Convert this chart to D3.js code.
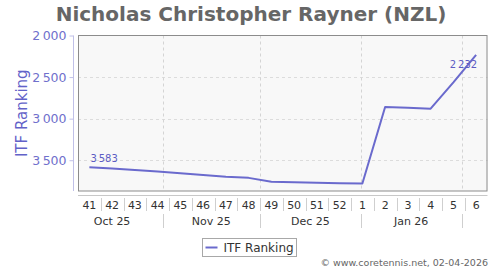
<!DOCTYPE html>
<html>
<head>
<meta charset="utf-8">
<script src="https://cdn.jsdelivr.net/npm/d3@7"></script>
<style>
    body { margin: 0; background: #fff; }
    text { font-family: "DejaVu Sans", sans-serif; }
</style>
</head>
<body>
<div id="chart"></div>
<script>
// weekly ITF ranking, week 41 of 2025 to week 6 of 2026
const weekLabels = ["41","42","43","44","45","46","47","48","49","50","51","52","1","2","3","4","5","6"];
const ranks = [3583, 3598, 3617, 3636, 3657, 3678, 3700, 3712, 3760, 3766, 3772, 3776, 3780, 2860, 2868, 2880, 2564, 2232];
const yTicks = [2000, 2500, 3000, 3500];
const firstWeekStart = new Date(Date.UTC(2025, 9, 6));
const chartTitle = "Nicholas Christopher Rayner (NZL)";
const yTitle = "ITF Ranking";
const credit = "\u00a9 www.coretennis.net, 02-04-2026";

document.addEventListener("DOMContentLoaded", function(){
    const width = 500, height = 270;
    const plot = {left: 78, right: 487.5, top: 35.5, bottom: 191};
    const lineColor = "#6a6acd";
    const labelColor = "#7070cc";

    const svg = d3.select("#chart").append("svg")
        .attr("width", width)
        .attr("height", height);

    const weekStarts = weekLabels.map((w, i) => d3.utcMonday.offset(firstWeekStart, i));
    const endDate = d3.utcMonday.offset(firstWeekStart, weekLabels.length);
    const weekMid = d => new Date(+d + 3.5 * 864e5);

    const x = d3.scaleUtc().domain([firstWeekStart, endDate]).range([plot.left, plot.right]);
    const y = d3.scaleLinear().domain([2000, 3870]).range([plot.top, plot.bottom]);

    // plot background
    svg.append("rect")
        .attr("x", plot.left).attr("y", plot.top)
        .attr("width", plot.right - plot.left).attr("height", plot.bottom - plot.top)
        .attr("fill", "#f8f8f8");

    // horizontal grid
    svg.append("g").selectAll("line")
        .data(yTicks.slice(1))
        .join("line")
        .attr("x1", plot.left).attr("x2", plot.right)
        .attr("y1", d => Math.round(y(d)) + 0.5).attr("y2", d => Math.round(y(d)) + 0.5)
        .attr("stroke", "#dcdcdc")
        .attr("stroke-dasharray", "3,3");

    // month boundaries
    const monthStarts = d3.utcMonth.range(firstWeekStart, endDate);
    svg.append("g").selectAll("line")
        .data(monthStarts)
        .join("line")
        .attr("x1", d => Math.round(x(d)) + 0.5).attr("x2", d => Math.round(x(d)) + 0.5)
        .attr("y1", plot.top).attr("y2", plot.bottom)
        .attr("stroke", "#d4d4d4")
        .attr("stroke-dasharray", "3,3");

    // frame
    svg.append("rect")
        .attr("x", plot.left + 0.5).attr("y", plot.top)
        .attr("width", plot.right - plot.left - 1).attr("height", plot.bottom - plot.top)
        .attr("fill", "none")
        .attr("stroke", "#8c8c8c");

    // y axis
    const fmt = d3.formatLocale({decimal: ".", thousands: "\u2009", grouping: [3], currency: ["", ""]}).format(",");
    const yAxis = svg.append("g")
        .attr("transform", "translate(73.5,0)")
        .call(d3.axisLeft(y).tickValues(yTicks).tickFormat(fmt).tickSize(4).tickPadding(3));
    yAxis.select(".domain").attr("stroke", "#c0c0e8").attr("d", `M0,${plot.top}V${plot.bottom}`);
    yAxis.selectAll(".tick line").attr("stroke", "#c0c0e8");
    yAxis.selectAll(".tick text")
        .attr("fill", labelColor)
        .attr("font-size", 12.5)
        .attr("font-family", "DejaVu Sans");

    svg.append("text")
        .attr("transform", `translate(27,${(plot.top + plot.bottom) / 2}) rotate(-90)`)
        .attr("text-anchor", "middle")
        .attr("fill", "#6262c8")
        .attr("font-size", 15)
        .text(yTitle);

    // x axis: week row and month row
    const axisY = 195.5;
    svg.append("line")
        .attr("x1", plot.left).attr("x2", plot.right)
        .attr("y1", axisY).attr("y2", axisY)
        .attr("stroke", "#c8c8c8");

    svg.append("g").selectAll("line")
        .data(weekStarts.slice(1))
        .join("line")
        .attr("x1", d => Math.round(x(d)) + 0.5).attr("x2", d => Math.round(x(d)) + 0.5)
        .attr("y1", 198).attr("y2", 211)
        .attr("stroke", "#cfcfcf");

    svg.append("g").selectAll("text")
        .data(weekLabels)
        .join("text")
        .attr("x", (d, i) => x(weekMid(weekStarts[i])))
        .attr("y", 208.5)
        .attr("text-anchor", "middle")
        .attr("font-size", 11)
        .attr("fill", "#333")
        .text(d => d);

    svg.append("g").selectAll("line")
        .data(monthStarts)
        .join("line")
        .attr("x1", d => Math.round(x(d)) + 0.5).attr("x2", d => Math.round(x(d)) + 0.5)
        .attr("y1", 214).attr("y2", 228)
        .attr("stroke", "#cfcfcf");

    const monthLabelData = d3.utcMonth.range(d3.utcMonth.floor(firstWeekStart), endDate)
        .map(m => ({date: m, mid: new Date((+m + +d3.utcMonth.offset(m, 1)) / 2)}))
        .filter(m => m.mid < endDate);
    svg.append("g").selectAll("text")
        .data(monthLabelData)
        .join("text")
        .attr("x", d => x(d.mid))
        .attr("y", 224.5)
        .attr("text-anchor", "middle")
        .attr("font-size", 11)
        .attr("fill", "#333")
        .text(d => d3.utcFormat("%b %y")(d.date));

    // series
    const pts = ranks.map((r, i) => ({x: x(weekMid(weekStarts[i])), y: y(r), r: r}));
    svg.append("path")
        .datum(pts)
        .attr("fill", "none")
        .attr("stroke", lineColor)
        .attr("stroke-width", 2)
        .attr("stroke-linejoin", "round")
        .attr("d", d3.line().x(d => d.x).y(d => d.y));

    // data labels on first and last points
    const first = pts[0], last = pts[pts.length - 1];
    svg.append("text")
        .attr("x", first.x + 1).attr("y", first.y - 5)
        .attr("font-size", 10)
        .attr("fill", "#5c5cc4")
        .text(fmt(first.r));
    svg.append("text")
        .attr("x", last.x + 1).attr("y", last.y + 13)
        .attr("text-anchor", "end")
        .attr("font-size", 10)
        .attr("fill", "#5c5cc4")
        .text(fmt(last.r));

    // title
    svg.append("text")
        .attr("x", 251).attr("y", 20.5)
        .attr("text-anchor", "middle")
        .attr("font-size", 20)
        .attr("font-weight", "bold")
        .attr("fill", "#666")
        .text(chartTitle);

    // legend
    const lg = svg.append("g").attr("transform", "translate(202.5,238.5)");
    lg.append("rect")
        .attr("width", 94).attr("height", 18)
        .attr("fill", "#fff")
        .attr("stroke", "#a8a8a8");
    lg.append("line")
        .attr("x1", 3).attr("x2", 15).attr("y1", 9).attr("y2", 9)
        .attr("stroke", lineColor).attr("stroke-width", 2);
    lg.append("text")
        .attr("x", 21).attr("y", 13.5)
        .attr("font-size", 12)
        .attr("fill", "#333")
        .text("ITF Ranking");

    // credit
    svg.append("text")
        .attr("x", 488).attr("y", 266)
        .attr("text-anchor", "end")
        .attr("font-size", 9.5)
        .attr("fill", "#666")
        .text(credit);
});
</script>
</body>
</html>
